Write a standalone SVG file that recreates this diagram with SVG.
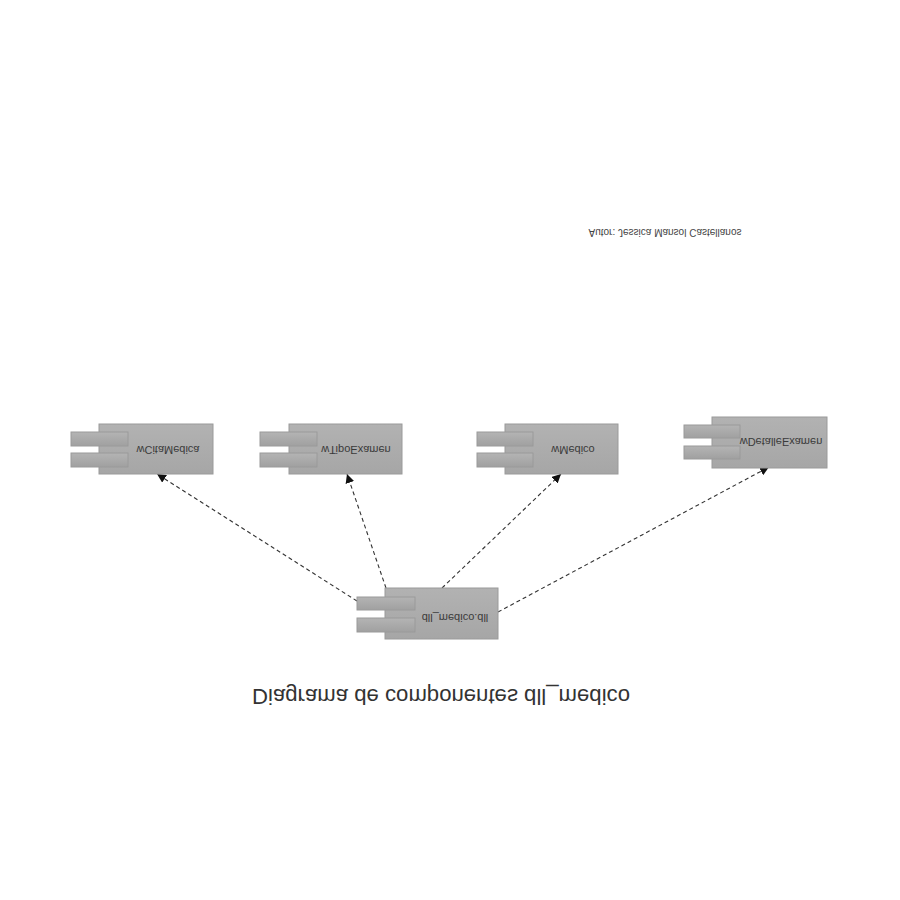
<svg xmlns="http://www.w3.org/2000/svg" width="900" height="900" viewBox="0 0 900 900">
<style>
.body{fill:url(#gb);stroke:#9a9a9a;stroke-width:1}
.tab{fill:url(#gt);stroke:#9a9a9a;stroke-width:1}
.lbl{font-family:"Liberation Sans",Arial,sans-serif;font-size:11px;fill:#3a3a3a;text-anchor:middle}
.conn{fill:none;stroke:#333;stroke-width:1.1;stroke-dasharray:4,3}
</style>
<defs>
<linearGradient id="gb" x1="0" y1="0" x2="0" y2="1"><stop offset="0" stop-color="#b2b2b2"/><stop offset="1" stop-color="#a6a6a6"/></linearGradient>
<linearGradient id="gt" x1="0" y1="0" x2="0" y2="1"><stop offset="0" stop-color="#b4b4b4"/><stop offset="1" stop-color="#a0a0a0"/></linearGradient>
<marker id="ah" viewBox="0 0 10 10" refX="10" refY="5" markerWidth="9" markerHeight="9" markerUnits="userSpaceOnUse" orient="auto"><path d="M0,0 L10,5 L0,10 z" fill="#111"/></marker>
</defs>
<rect width="900" height="900" fill="#fff"/>
<g id="connectors">
<line class="conn" x1="357" y1="601" x2="157" y2="474" marker-end="url(#ah)"/>
<line class="conn" x1="386" y1="588" x2="347" y2="474" marker-end="url(#ah)"/>
<line class="conn" x1="442" y1="588" x2="561" y2="474" marker-end="url(#ah)"/>
<line class="conn" x1="498" y1="612" x2="769" y2="467" marker-end="url(#ah)"/>
</g>
<g id="wCitaMedica">
<rect class="body" x="99" y="424" width="114" height="50"/>
<rect class="tab" x="71" y="432" width="57" height="14"/>
<rect class="tab" x="71" y="453" width="57" height="14"/>
<text class="lbl" transform="translate(168,450) scale(1,-1)" dy="0.35em">wCitaMedica</text>
</g>
<g id="wTipoExamen">
<rect class="body" x="289" y="424" width="113" height="50"/>
<rect class="tab" x="260" y="432" width="57" height="14"/>
<rect class="tab" x="260" y="453" width="57" height="14"/>
<text class="lbl" transform="translate(356,450) scale(1,-1)" dy="0.35em">wTipoExamen</text>
</g>
<g id="wMedico">
<rect class="body" x="505" y="424" width="113" height="50"/>
<rect class="tab" x="477" y="432" width="56" height="14"/>
<rect class="tab" x="477" y="453" width="56" height="14"/>
<text class="lbl" transform="translate(573,450) scale(1,-1)" dy="0.35em">wMedico</text>
</g>
<g id="wDetalleExamen">
<rect class="body" x="712" y="417" width="115" height="51"/>
<rect class="tab" x="684" y="425" width="56" height="13"/>
<rect class="tab" x="684" y="446" width="56" height="13"/>
<text class="lbl" transform="translate(781,442) scale(1,-1)" dy="0.35em">wDetalleExamen</text>
</g>
<g id="dll_medico">
<rect class="body" x="385" y="588" width="113" height="51"/>
<rect class="tab" x="357" y="597" width="58" height="13"/>
<rect class="tab" x="357" y="618" width="58" height="14"/>
<text class="lbl" transform="translate(455,618) scale(1,-1)" dy="0.35em">dll_medico.dll</text>
</g>
<g id="title">
<text transform="translate(441,697) scale(1,-1)" dy="0.35em" text-anchor="middle" font-family="Liberation Sans, Arial, sans-serif" font-size="22" fill="#333" textLength="378" lengthAdjust="spacingAndGlyphs">Diagrama de componentes dll_medico</text>
</g>
<g id="author">
<text transform="translate(665,233) scale(1,-1)" dy="0.35em" text-anchor="middle" font-family="Liberation Sans, Arial, sans-serif" font-size="11" fill="#444" textLength="153" lengthAdjust="spacingAndGlyphs">Autor: Jessica Mansol Castellanos</text>
</g>
</svg>
